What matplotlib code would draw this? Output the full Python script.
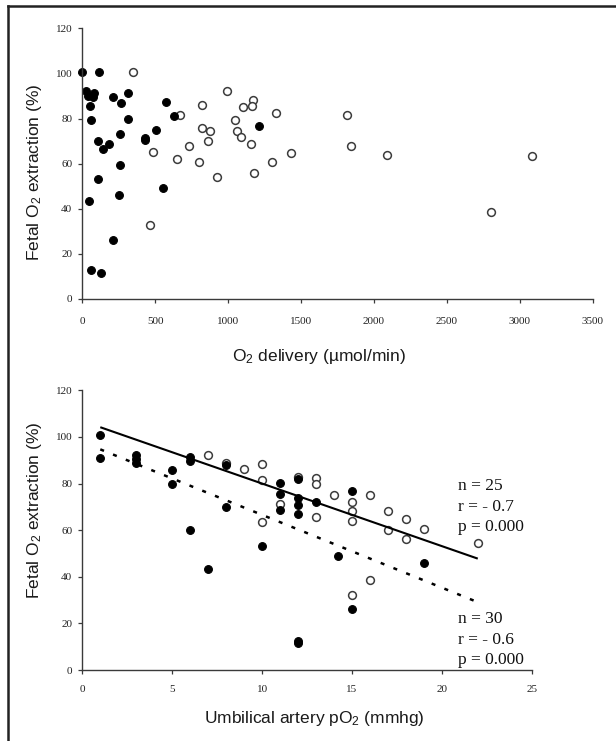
import matplotlib
matplotlib.use("Agg")
import matplotlib.pyplot as plt
from matplotlib.lines import Line2D

# ---------------- data ----------------
# Top panel: O2 delivery (umol/min) vs fetal O2 extraction (%)
deliv_filled_x = [0, 112, 25, 80, 75, 41, 55, 60, 212, 265, 310, 315, 108, 142, 185,
                  256, 256, 108, 46, 251, 212, 60, 126, 427, 427, 507, 571, 630, 553, 1215]
deliv_filled_y = [100.5, 100.5, 92.2, 91.5, 89.7, 90, 85.7, 79.5, 89.7, 87, 91.2, 80, 70, 66.5, 68.6,
                  73, 59.5, 53, 43.6, 46, 26, 12.7, 11.7, 71.5, 70.5, 75, 87.5, 81, 49, 76.5]
deliv_open_x = [345, 487, 461, 646, 667, 733, 801, 820, 820, 875, 863, 927, 993, 1099, 1169,
                1162, 1046, 1060, 1085, 1158, 1178, 1329, 1304, 1434, 1813, 1840, 2089, 2804, 3082]
deliv_open_y = [100.5, 65, 32.7, 62, 81.5, 68, 60.6, 86, 76, 74.6, 70, 54, 92, 85, 88,
                85.7, 79.5, 74.6, 72, 68.6, 56, 82.6, 60.6, 64.6, 81.4, 68, 64, 38.6, 63.5]

# Bottom panel: umbilical artery pO2 (mmhg) vs fetal O2 extraction (%)
po2_filled_x = [1, 1, 3, 3, 3, 5, 5, 6, 6, 6, 7, 8, 8, 10, 11, 11, 11, 12, 12, 12, 12, 12, 12,
                13, 14.2, 15, 15, 19]
po2_filled_y = [100.7, 90.8, 92.3, 90.4, 88.7, 85.8, 79.8, 91.3, 89.8, 60, 43.3, 88, 70, 53.2,
                80.4, 75.4, 68.7, 82, 73.7, 70.8, 67, 12.6, 11.5, 72, 48.8, 76.7, 26.3, 46]
po2_open_x = [7, 8, 9, 10, 10, 10, 11, 12, 13, 13, 13, 14, 15, 15, 15, 15, 16, 16, 17, 17,
              18, 18, 19, 22]
po2_open_y = [92.4, 88.8, 86.1, 88.2, 81.6, 63.7, 71.1, 83, 82.5, 79.8, 65.5, 75, 72, 68.4,
              64.1, 32.3, 75, 38.8, 68.2, 60.2, 64.7, 56.2, 60.4, 54.5]

# regression lines
fit_open_x = [1, 22]
fit_open_y = [104.2, 47.8]
fit_filled_x = [1, 22]
fit_filled_y = [94.7, 29.1]

stats_open = ["n = 25", "r = - 0.7", "p = 0.000"]
stats_filled = ["n = 30", "r = - 0.6", "p = 0.000"]

top_xticks = [0, 500, 1000, 1500, 2000, 2500, 3000, 3500]
bot_xticks = [0, 5, 10, 15, 20, 25]
yticks = [0, 20, 40, 60, 80, 100, 120]

# ---------------- style ----------------
plt.rcParams['mathtext.fontset'] = 'custom'
plt.rcParams['mathtext.rm'] = 'Liberation Sans'
plt.rcParams['mathtext.it'] = 'Liberation Sans:italic'
plt.rcParams['mathtext.default'] = 'regular'
plt.rcParams['lines.scale_dashes'] = False

SERIF = 'Liberation Serif'
SANS = 'Liberation Sans'
AX_COL = '#3a3a3a'

W, H = 616, 741
fig = plt.figure(figsize=(W / 100, H / 100), dpi=100)
fig.patch.set_facecolor('white')


def px_axes(left, right, top, bottom):
    return fig.add_axes([left / W, 1 - bottom / H, (right - left) / W, (bottom - top) / H])


def style_axes(ax, xticks, xpad):
    for s in ['top', 'right']:
        ax.spines[s].set_visible(False)
    for s in ['left', 'bottom']:
        ax.spines[s].set_color(AX_COL)
        ax.spines[s].set_linewidth(1.0)
    ax.set_yticks(yticks)
    ax.set_xticks(xticks)
    ax.tick_params(axis='both', direction='out', length=2.8, width=0.9, color=AX_COL,
                   labelsize=8)
    ax.tick_params(axis='y', pad=4.5)
    ax.tick_params(axis='x', pad=xpad)
    for lab in ax.get_xticklabels() + ax.get_yticklabels():
        lab.set_fontfamily(SERIF)
        lab.set_color('#222222')


MS = 5.6
open_kw = dict(linestyle='none', marker='o', ms=MS, mfc='white', mec='#3c3c3c', mew=1.1)
fill_kw = dict(linestyle='none', marker='o', ms=MS, mfc='black', mec='black', mew=0.8)

# ---- top panel ----
ax1 = px_axes(82.3, 592.7, 28.3, 299)
ax1.set_xlim(0, 3500)
ax1.set_ylim(0, 120)
ax1.plot(deliv_open_x, deliv_open_y, **open_kw, clip_on=False)
ax1.plot(deliv_filled_x, deliv_filled_y, **fill_kw, clip_on=False)
style_axes(ax1, top_xticks, 10)

# ---- bottom panel ----
ax2 = px_axes(82.3, 531.7, 390.4, 670)
ax2.set_xlim(0, 25)
ax2.set_ylim(0, 120)
ax2.plot(po2_open_x, po2_open_y, **open_kw, clip_on=False)
ax2.plot(po2_filled_x, po2_filled_y, **fill_kw, clip_on=False)
ax2.plot(fit_open_x, fit_open_y, color='black', lw=1.5, solid_capstyle='butt')
ax2.plot(fit_filled_x, fit_filled_y, color='black', lw=1.8,
         linestyle=(0, (2.9, 7.0)), dash_capstyle='butt')
style_axes(ax2, bot_xticks, 8)

stat_y_open = [79.1, 70.1, 61.4]
stat_y_filled = [22.0, 12.9, 4.3]
for t, y in zip(stats_open, stat_y_open):
    ax2.text(20.9, y, t, family=SERIF, fontsize=12.5, va='center', ha='left', color='#111111')
for t, y in zip(stats_filled, stat_y_filled):
    ax2.text(20.9, y, t, family=SERIF, fontsize=12.5, va='center', ha='left', color='#111111')

# ---- axis labels ----
lab_kw = dict(family=SANS, fontsize=12.5, color='#1a1a1a', ha='center', va='center')
fig.text(319 / W, 1 - 357 / H, r'O$_2$ delivery (µmol/min)', **lab_kw)
fig.text(314 / W, 1 - 718 / H, r'Umbilical artery pO$_2$ (mmhg)', **lab_kw)
fig.text(35 / W, 1 - 172 / H, r'Fetal O$_2$ extraction (%)', rotation=90, **lab_kw)
fig.text(35 / W, 1 - 510 / H, r'Fetal O$_2$ extraction (%)', rotation=90, **lab_kw)

# ---- outer frame (left and top edges) ----
fx = 8.3 / W
fy = 1 - 5.7 / H
fig.add_artist(Line2D([fx, fx], [0, fy], transform=fig.transFigure, color='#222222', lw=1.8))
fig.add_artist(Line2D([fx, 1], [fy, fy], transform=fig.transFigure, color='#222222', lw=1.8))

fig.savefig('out.png', dpi=100, facecolor='white')
